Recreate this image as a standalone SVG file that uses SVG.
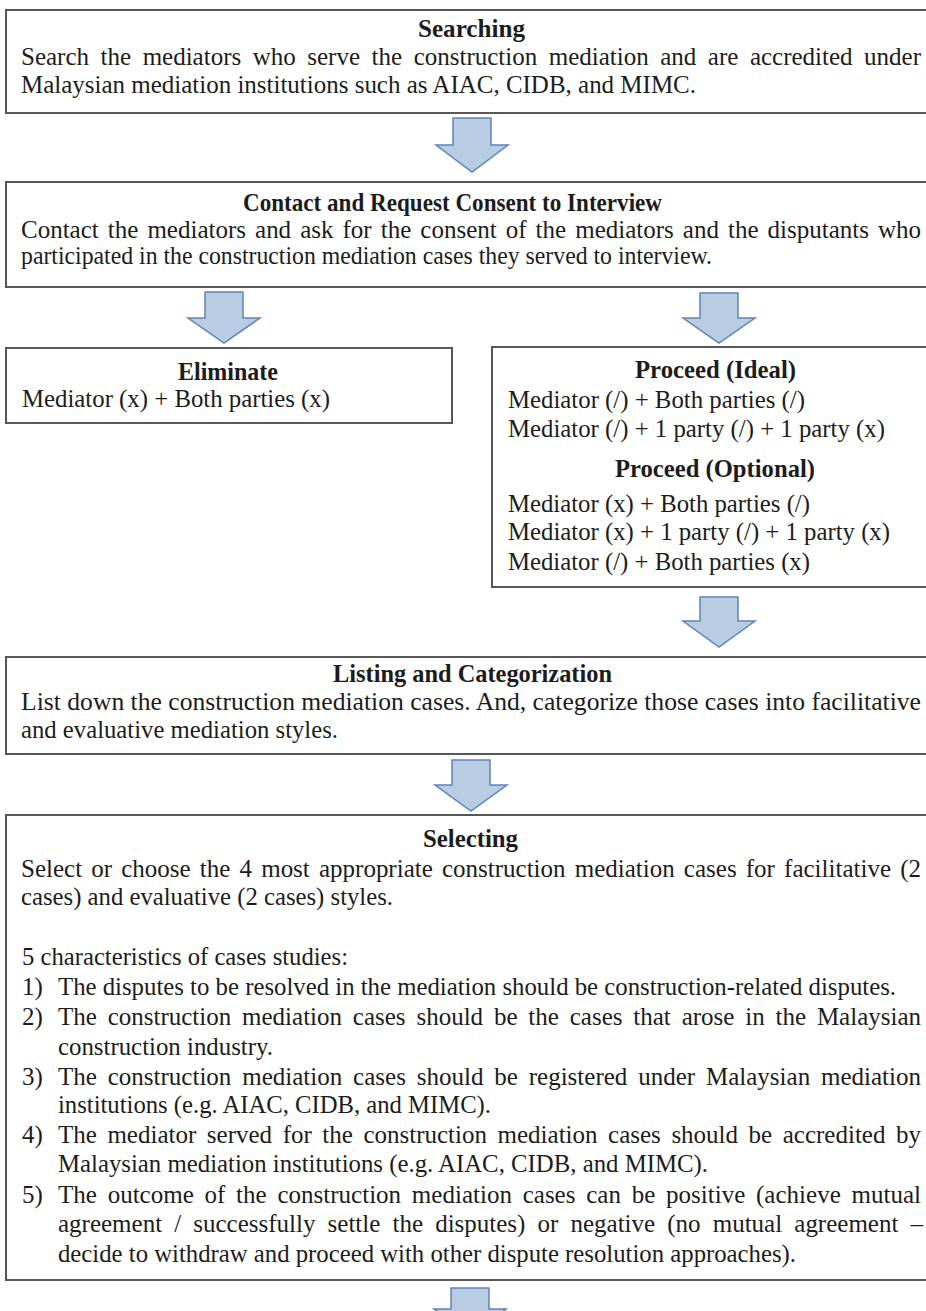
<svg xmlns="http://www.w3.org/2000/svg" width="926" height="1311" viewBox="0 0 926 1311">
<style>
  .box { fill: #ffffff; stroke: #575757; stroke-width: 2; }
  .t { font-family: "Liberation Serif", "Times New Roman", serif; font-size: 25px; fill: #1c1c1c; }
  .b { font-weight: bold; }
  .arr { fill: #b8cce4; stroke: #5f84b8; stroke-width: 1.5; stroke-linejoin: miter; }
</style>
<rect width="926" height="1311" fill="#ffffff"/>

<g id="connectors">
  <polygon class="arr" points="453,118 491,118 491,145 508,145 472,172 436,145 453,145"/>
  <polygon class="arr" points="205,292 243,292 243,318 260,318 224,343 188,318 205,318"/>
  <polygon class="arr" points="700,293 738,293 738,318 755,318 719,343 683,318 700,318"/>
  <polygon class="arr" points="700,597 738,597 738,621 755,621 719,647 683,621 700,621"/>
  <polygon class="arr" points="452,760 490,760 490,785 507,785 471,811 435,785 452,785"/>
  <polygon class="arr" points="451,1288 489,1288 489,1309 506,1309 470,1335 434,1309 451,1309"/>
</g>

<g id="searching">
  <rect class="box" x="6" y="10" width="930" height="103"/>
  <text class="t b" x="418" y="37" textLength="107" lengthAdjust="spacingAndGlyphs">Searching</text>
  <text class="t" x="21" y="65" word-spacing="5.3" textLength="900" lengthAdjust="spacing">Search the mediators who serve the construction mediation and are accredited under</text>
  <text class="t" x="21" y="93" textLength="675" lengthAdjust="spacingAndGlyphs">Malaysian mediation institutions such as AIAC, CIDB, and MIMC.</text>
</g>

<g id="contact">
  <rect class="box" x="6" y="182" width="930" height="105"/>
  <text class="t b" x="243" y="211" textLength="419" lengthAdjust="spacingAndGlyphs">Contact and Request Consent to Interview</text>
  <text class="t" x="21" y="238" word-spacing="2.8" textLength="900" lengthAdjust="spacing">Contact the mediators and ask for the consent of the mediators and the disputants who</text>
  <text class="t" x="21" y="264" textLength="691" lengthAdjust="spacingAndGlyphs">participated in the construction mediation cases they served to interview.</text>
</g>

<g id="eliminate">
  <rect class="box" x="6" y="348" width="446" height="75"/>
  <text class="t b" x="178" y="380" textLength="100" lengthAdjust="spacingAndGlyphs">Eliminate</text>
  <text class="t" x="22" y="407" textLength="308" lengthAdjust="spacingAndGlyphs">Mediator (x) + Both parties (x)</text>
</g>

<g id="proceed">
  <rect class="box" x="492" y="347" width="450" height="240"/>
  <text class="t b" x="635" y="378" textLength="161" lengthAdjust="spacingAndGlyphs">Proceed (Ideal)</text>
  <text class="t" x="508" y="408" textLength="297" lengthAdjust="spacingAndGlyphs">Mediator (/) + Both parties (/)</text>
  <text class="t" x="508" y="437" textLength="377" lengthAdjust="spacingAndGlyphs">Mediator (/) + 1 party (/) + 1 party (x)</text>
  <text class="t b" x="615" y="477" textLength="200" lengthAdjust="spacingAndGlyphs">Proceed (Optional)</text>
  <text class="t" x="508" y="512" textLength="302" lengthAdjust="spacingAndGlyphs">Mediator (x) + Both parties (/)</text>
  <text class="t" x="508" y="540" textLength="382" lengthAdjust="spacingAndGlyphs">Mediator (x) + 1 party (/) + 1 party (x)</text>
  <text class="t" x="508" y="570" textLength="302" lengthAdjust="spacingAndGlyphs">Mediator (/) + Both parties (x)</text>
</g>

<g id="listing">
  <rect class="box" x="6" y="657" width="930" height="97"/>
  <text class="t b" x="333" y="682" textLength="279" lengthAdjust="spacingAndGlyphs">Listing and Categorization</text>
  <text class="t" x="21" y="710" textLength="900" lengthAdjust="spacingAndGlyphs">List down the construction mediation cases. And, categorize those cases into facilitative</text>
  <text class="t" x="21" y="738" textLength="317" lengthAdjust="spacingAndGlyphs">and evaluative mediation styles.</text>
</g>

<g id="selecting">
  <rect class="box" x="6" y="815" width="930" height="465"/>
  <text class="t b" x="423" y="847" textLength="95" lengthAdjust="spacingAndGlyphs">Selecting</text>
  <text class="t" x="21" y="877" word-spacing="2.9" textLength="900" lengthAdjust="spacing">Select or choose the 4 most appropriate construction mediation cases for facilitative (2</text>
  <text class="t" x="21" y="905" textLength="372" lengthAdjust="spacingAndGlyphs">cases) and evaluative (2 cases) styles.</text>
  <text class="t" x="22" y="965" textLength="326" lengthAdjust="spacingAndGlyphs">5 characteristics of cases studies:</text>
  <text class="t" x="22" y="995">1)</text>
  <text class="t" x="58" y="995" textLength="838" lengthAdjust="spacingAndGlyphs">The disputes to be resolved in the mediation should be construction-related disputes.</text>
  <text class="t" x="22" y="1025">2)</text>
  <text class="t" x="58" y="1025" word-spacing="4.6" textLength="863" lengthAdjust="spacing">The construction mediation cases should be the cases that arose in the Malaysian</text>
  <text class="t" x="58" y="1055" textLength="215" lengthAdjust="spacingAndGlyphs">construction industry.</text>
  <text class="t" x="22" y="1085">3)</text>
  <text class="t" x="58" y="1085" word-spacing="4.6" textLength="863" lengthAdjust="spacing">The construction mediation cases should be registered under Malaysian mediation</text>
  <text class="t" x="58" y="1113" textLength="433" lengthAdjust="spacingAndGlyphs">institutions (e.g. AIAC, CIDB, and MIMC).</text>
  <text class="t" x="22" y="1143">4)</text>
  <text class="t" x="58" y="1143" word-spacing="4.3" textLength="863" lengthAdjust="spacing">The mediator served for the construction mediation cases should be accredited by</text>
  <text class="t" x="58" y="1172" textLength="650" lengthAdjust="spacingAndGlyphs">Malaysian mediation institutions (e.g. AIAC, CIDB, and MIMC).</text>
  <text class="t" x="22" y="1203">5)</text>
  <text class="t" x="58" y="1203" word-spacing="4.5" textLength="863" lengthAdjust="spacing">The outcome of the construction mediation cases can be positive (achieve mutual</text>
  <text class="t" x="58" y="1232" word-spacing="5.9" textLength="865" lengthAdjust="spacing">agreement / successfully settle the disputes) or negative (no mutual agreement –</text>
  <text class="t" x="58" y="1262" textLength="738" lengthAdjust="spacingAndGlyphs">decide to withdraw and proceed with other dispute resolution approaches).</text>
</g>
</svg>
